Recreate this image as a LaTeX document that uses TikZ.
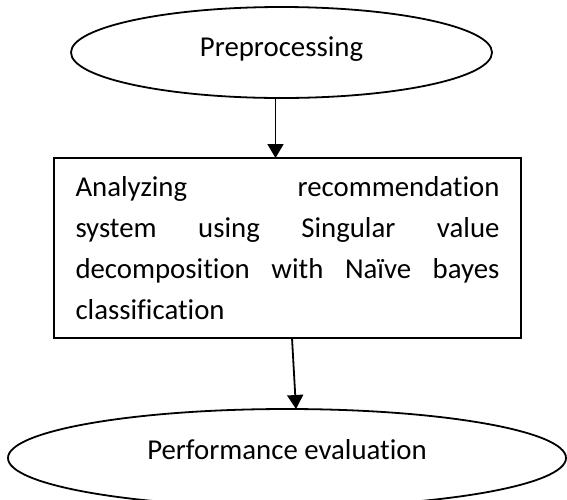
\documentclass[tikz,border=0pt]{standalone}
\usepackage{fontspec}
\setmainfont{Carlito}[Ligatures=NoCommon]
\usepackage{tikz}
\usetikzlibrary{shapes.geometric, arrows.meta}

\tikzset{
    terminal/.style={draw, ellipse, line width=0.9pt, inner sep=0pt, outer sep=0pt},
    process/.style={draw, rectangle, line width=0.9pt, text width=212pt, inner xsep=10.75pt,
        minimum height=90pt, align=justify, outer sep=0pt},
    flow/.style={line width=0.9pt, -{Triangle[width=8pt, length=7pt]}}
}

\begin{document}
\begin{tikzpicture}[x=0.5pt, y=-0.5pt, font=\fontsize{14.4}{20.5}\selectfont]
    \useasboundingbox (0,0) rectangle (567,499);
    % the three stages, top to bottom
    \node[terminal, minimum width=210.5pt, minimum height=45.5pt, text depth=5.5pt] (prep) at (281.5,52.5) {Preprocessing};
    \node[process] (svdnb) at (287.5,248)
        {Analyzing recommendation\linebreak system using Singular value\linebreak decomposition with Naïve bayes\linebreak classification};
    \node[terminal, minimum width=279pt, minimum height=49pt, text depth=9pt] (perf) at (287,458) {Performance evaluation};
    % arrows between the stages
    \draw[flow] ([xshift=-3pt]prep.south) -- ([xshift=-3pt]prep.south |- svdnb.north);
    \draw[flow] ([xshift=2.25pt]svdnb.south) -- ([xshift=4.5pt]perf.north);
\end{tikzpicture}
\end{document}
